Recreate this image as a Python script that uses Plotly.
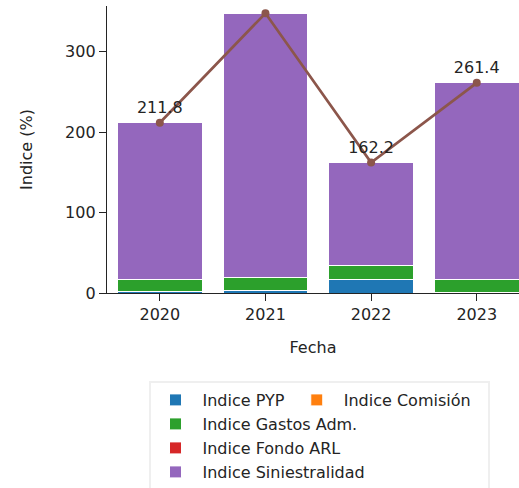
import plotly.graph_objects as go

# Annual indices (%) by component
years = ["2020", "2021", "2022", "2023"]
indice_pyp = [1.5, 3.3, 16.2, 1.0]
indice_comision = [0.0, 0.0, 0.0, 0.0]
indice_gastos_adm = [15.9, 16.6, 17.8, 16.4]
indice_fondo_arl = [0.0, 0.0, 0.0, 0.0]
indice_siniestralidad = [194.4, 328.1, 128.2, 244.0]
indice_total = [211.8, 348.0, 162.2, 261.4]

FONT = "DejaVu Sans"
TXT = "rgb(36,36,36)"

series = [
    ("Indice PYP", indice_pyp, "#1f77b4", "legend"),
    ("Indice Comisión", indice_comision, "#ff7f0e", "legend"),
    ("Indice Gastos Adm.", indice_gastos_adm, "#2ca02c", "legend2"),
    ("Indice Fondo ARL", indice_fondo_arl, "#d62728", "legend3"),
    ("Indice Siniestralidad", indice_siniestralidad, "#9467bd", "legend4"),
]

fig = go.Figure()
for name, vals, color, leg in series:
    fig.add_trace(go.Bar(
        x=years, y=vals, name=name, legend=leg,
        marker=dict(color=color, line=dict(color="white", width=1)),
    ))

fig.add_trace(go.Scatter(
    x=years, y=indice_total, mode="lines+markers+text",
    texttemplate="%{y:.1f}", textposition="top center",
    textfont=dict(family=FONT, size=16, color=TXT),
    line=dict(color="#8c564b", width=2.7),
    marker=dict(color="#8c564b", size=8),
    showlegend=False, name="Total",
))

# plot area: x 107..519, y 6..293 (pixels)
PL, PT, PW, PH = 107, 6, 412, 287


def px_x(p):
    return (p - PL) / PW


def px_y(p):
    return (PT + PH - p) / PH


leg_common = dict(
    orientation="h", xanchor="left", yanchor="middle", traceorder="normal",
    x=px_x(148.5), itemwidth=44, bgcolor="rgba(0,0,0,0)", borderwidth=0,
    font=dict(family=FONT, size=16, color=TXT),
)

fig.update_layout(
    template="simple_white",
    width=519, height=488,
    margin=dict(l=PL, r=0, t=PT, b=488 - PT - PH, autoexpand=False),
    barmode="stack",
    font=dict(family=FONT, size=16, color=TXT),
    plot_bgcolor="white", paper_bgcolor="white",
    xaxis=dict(
        type="category", range=[-0.5, 3.4],
        title=dict(text="Fecha", standoff=18, font=dict(size=16)),
        ticks="outside", ticklen=7, tickwidth=1.3, linewidth=1.3,
        showline=True, linecolor=TXT, tickcolor=TXT,
    ),
    yaxis=dict(
        range=[0, 357], tickvals=[0, 100, 200, 300],
        title=dict(text="Indice (%)", standoff=28, font=dict(size=16)),
        ticks="outside", ticklen=7, tickwidth=1.3, linewidth=1.3,
        showline=True, linecolor=TXT, tickcolor=TXT, showgrid=False,
    ),
    legend=dict(leg_common, y=px_y(400)),
    legend2=dict(leg_common, y=px_y(424)),
    legend3=dict(leg_common, y=px_y(448)),
    legend4=dict(leg_common, y=px_y(472)),
    shapes=[dict(
        type="rect", xref="paper", yref="paper",
        x0=px_x(150), x1=px_x(489), y0=px_y(500), y1=px_y(382),
        line=dict(color="#cccccc", width=2), fillcolor="rgba(0,0,0,0)",
    )],
)

fig.write_html("out.html")
